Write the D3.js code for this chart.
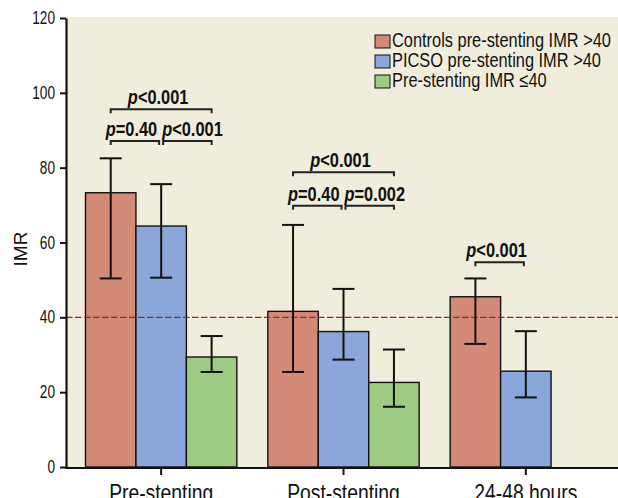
<!DOCTYPE html>
<html>
<head>
<meta charset="utf-8">
<script src="https://cdn.jsdelivr.net/npm/d3@7"></script>
<style>
  body { margin: 0; background: #fff; }
  svg { display: block; }
</style>
</head>
<body>
<div id="chart"></div>
<script>
// values
var groups = ["Pre-stenting", "Post-stenting", "24-48 hours"];
var seriesNames = ["Controls pre-stenting IMR >40", "PICSO pre-stenting IMR >40", "Pre-stenting IMR \u226440"];
var controlsMean = [73.3, 41.6, 45.5];
var controlsLow  = [50.4, 25.4, 32.9];
var controlsHigh = [82.5, 64.7, 50.4];
var picsoMean = [64.4, 36.2, 25.6];
var picsoLow  = [50.6, 28.7, 18.6];
var picsoHigh = [75.6, 47.6, 36.3];
var lowImrMean = [29.4, 22.6, null];
var lowImrLow  = [25.4, 16.1, null];
var lowImrHigh = [35.0, 31.4, null];
var yTicks = [0, 20, 40, 60, 80, 100, 120];
var threshold = 40;
// p-value brackets: group, from series, to series, height (IMR units), label
var pValues = [
  {group: 0, from: 0, to: 2, level: 95.6, label: "<0.001"},
  {group: 0, from: 0, to: 1, level: 87.1, label: "=0.40"},
  {group: 0, from: 1, to: 2, level: 87.1, label: "<0.001"},
  {group: 1, from: 0, to: 2, level: 78.8, label: "<0.001"},
  {group: 1, from: 0, to: 1, level: 69.8, label: "=0.40"},
  {group: 1, from: 1, to: 2, level: 69.8, label: "=0.002"},
  {group: 2, from: 0, to: 1, level: 54.7, label: "<0.001"}
];

var colors = ["#d38b78", "#8ba6d8", "#9ecb84"];
var sans = "'Liberation Sans', Arial, sans-serif";
var squeeze = 0.82; // no condensed face installed, so squash horizontally

// move x/y into a transform and squeeze the glyphs
function condense(sel, k) {
  sel.each(function() {
    var t = d3.select(this);
    var tx = +t.attr("x") || 0, ty = +t.attr("y") || 0;
    t.attr("x", 0).attr("y", 0)
     .attr("transform", "translate(" + tx + "," + ty + ") scale(" + k + ",1)");
  });
}

var margin = {top: 18, right: 0, bottom: 31, left: 66};
var width = 618 - margin.left - margin.right;
var height = 498 - margin.top - margin.bottom;

var means = [controlsMean, picsoMean, lowImrMean];
var lows = [controlsLow, picsoLow, lowImrLow];
var highs = [controlsHigh, picsoHigh, lowImrHigh];
var bars = [];
seriesNames.forEach(function(s, si) {
  groups.forEach(function(g, gi) {
    if (means[si][gi] == null) return;
    bars.push({group: g, series: s, si: si, mean: means[si][gi], low: lows[si][gi], high: highs[si][gi]});
  });
});

var svg = d3.select("#chart").append("svg")
    .attr("width", 618)
    .attr("height", 498)
  .append("g")
    .attr("transform", "translate(" + margin.left + "," + margin.top + ")");

var x0 = d3.scaleBand().domain(groups).range([4, width - 1]);
var x1 = d3.scaleBand().domain(seriesNames).range([15.5, x0.bandwidth() - 15.5]);
var y = d3.scaleLinear().domain([0, 120]).range([height, 0]);

// plot background
svg.append("rect")
    .attr("x", 0).attr("y", -1)
    .attr("width", width).attr("height", height + 1)
    .attr("fill", "#f1eddc");

// bars
svg.selectAll(".bar")
    .data(bars)
  .enter().append("rect")
    .attr("class", "bar")
    .attr("x", function(d) { return x0(d.group) + x1(d.series); })
    .attr("y", function(d) { return y(d.mean); })
    .attr("width", x1.bandwidth())
    .attr("height", function(d) { return y(0) - y(d.mean); })
    .attr("fill", function(d) { return colors[d.si]; })
    .attr("stroke", "#111")
    .attr("stroke-width", 1.4);

// threshold line
svg.append("line")
    .attr("x1", 0).attr("x2", width)
    .attr("y1", y(threshold)).attr("y2", y(threshold))
    .attr("stroke", "#a8231f")
    .attr("stroke-width", 1.4)
    .attr("stroke-dasharray", "6.5,2.5");

// error bars
var cx = function(d) { return x0(d.group) + x1(d.series) + x1.bandwidth() / 2; };
var eb = svg.selectAll(".err").data(bars).enter().append("g").attr("class", "err")
    .attr("stroke", "#111").attr("stroke-width", 2);
eb.append("line")
    .attr("x1", cx).attr("x2", cx)
    .attr("y1", function(d) { return y(d.low); })
    .attr("y2", function(d) { return y(d.high); });
eb.append("line")
    .attr("x1", function(d) { return cx(d) - 11; }).attr("x2", function(d) { return cx(d) + 11; })
    .attr("y1", function(d) { return y(d.high); }).attr("y2", function(d) { return y(d.high); });
eb.append("line")
    .attr("x1", function(d) { return cx(d) - 11; }).attr("x2", function(d) { return cx(d) + 11; })
    .attr("y1", function(d) { return y(d.low); }).attr("y2", function(d) { return y(d.low); });

// p-value brackets
var seriesCenter = function(gi, si) {
  return x0(groups[gi]) + x1(seriesNames[si]) + x1.bandwidth() / 2;
};
pValues.forEach(function(p) {
  var xa = seriesCenter(p.group, p.from) + (p.from === 1 ? 2 : 0);
  var xb = seriesCenter(p.group, p.to) - (p.to === 1 ? 2 : 0);
  var yy = y(p.level);
  svg.append("path")
      .attr("d", "M" + xa + "," + (yy + 4) + "V" + yy + "H" + xb + "V" + (yy + 4))
      .attr("fill", "none")
      .attr("stroke", "#222")
      .attr("stroke-width", 2);
  // paired brackets at the same height push their labels apart
  var paired = pValues.some(function(q) { return q !== p && q.group === p.group && q.level === p.level; });
  var anchor = "middle", tx = (xa + xb) / 2 - 3;
  if (paired && p.to === 1) { anchor = "end"; tx = seriesCenter(p.group, 1) - 4; }
  if (paired && p.from === 1) { anchor = "start"; tx = seriesCenter(p.group, 1) + 1; }
  var t = svg.append("text")
      .attr("x", tx)
      .attr("y", yy - 5)
      .attr("text-anchor", anchor)
      .style("font-family", sans)
      .style("font-weight", "bold")
      .style("font-size", "20px")
      .attr("fill", "#111");
  t.append("tspan").style("font-style", "italic").text("p");
  t.append("tspan").text(p.label);
  condense(t, squeeze);
});

// y axis
var yAxis = svg.append("g")
    .call(d3.axisLeft(y).tickValues(yTicks).tickSize(6).tickPadding(5).tickSizeOuter(0));
yAxis.select(".domain").attr("stroke", "#111").attr("stroke-width", 2.2);
yAxis.selectAll(".tick line").attr("stroke", "#111").attr("stroke-width", 2);
yAxis.selectAll("text")
    .style("font-family", sans)
    .style("font-size", "17.5px")
    .attr("fill", "#111")
    .call(condense, 0.78);

// x axis
var xAxis = svg.append("g")
    .attr("transform", "translate(0," + height + ")")
    .call(d3.axisBottom(x0).tickSize(8).tickPadding(10).tickSizeOuter(0));
xAxis.select(".domain").remove();
xAxis.append("line")
    .attr("x1", -1).attr("x2", width)
    .attr("y1", 1).attr("y2", 1)
    .attr("stroke", "#111").attr("stroke-width", 2.2);
xAxis.selectAll(".tick line").attr("stroke", "#111").attr("stroke-width", 2);
xAxis.selectAll("text")
    .style("font-family", sans)
    .style("font-size", "23px")
    .attr("fill", "#111")
    .call(condense, 0.84);

// y label
svg.append("text")
    .attr("transform", "rotate(-90)")
    .attr("x", -(249 - margin.top))
    .attr("y", 20 - margin.left)
    .attr("dy", "0.35em")
    .attr("text-anchor", "middle")
    .style("font-family", sans)
    .style("font-size", "19px")
    .attr("fill", "#111")
    .text("IMR");

// legend
var legend = svg.append("g")
    .attr("transform", "translate(" + (375 - margin.left) + "," + (35 - margin.top) + ")");
var li = legend.selectAll(".leg").data(seriesNames).enter().append("g")
    .attr("transform", function(d, i) { return "translate(0," + i * 20 + ")"; });
li.append("rect")
    .attr("width", 15).attr("height", 13)
    .attr("fill", function(d, i) { return colors[i]; })
    .attr("stroke", "#111").attr("stroke-width", 1);
li.append("text")
    .attr("x", 17)
    .attr("y", 12)
    .style("font-family", sans)
    .style("font-size", "20px")
    .attr("fill", "#111")
    .text(function(d) { return d; })
    .call(condense, squeeze);
</script>
</body>
</html>
